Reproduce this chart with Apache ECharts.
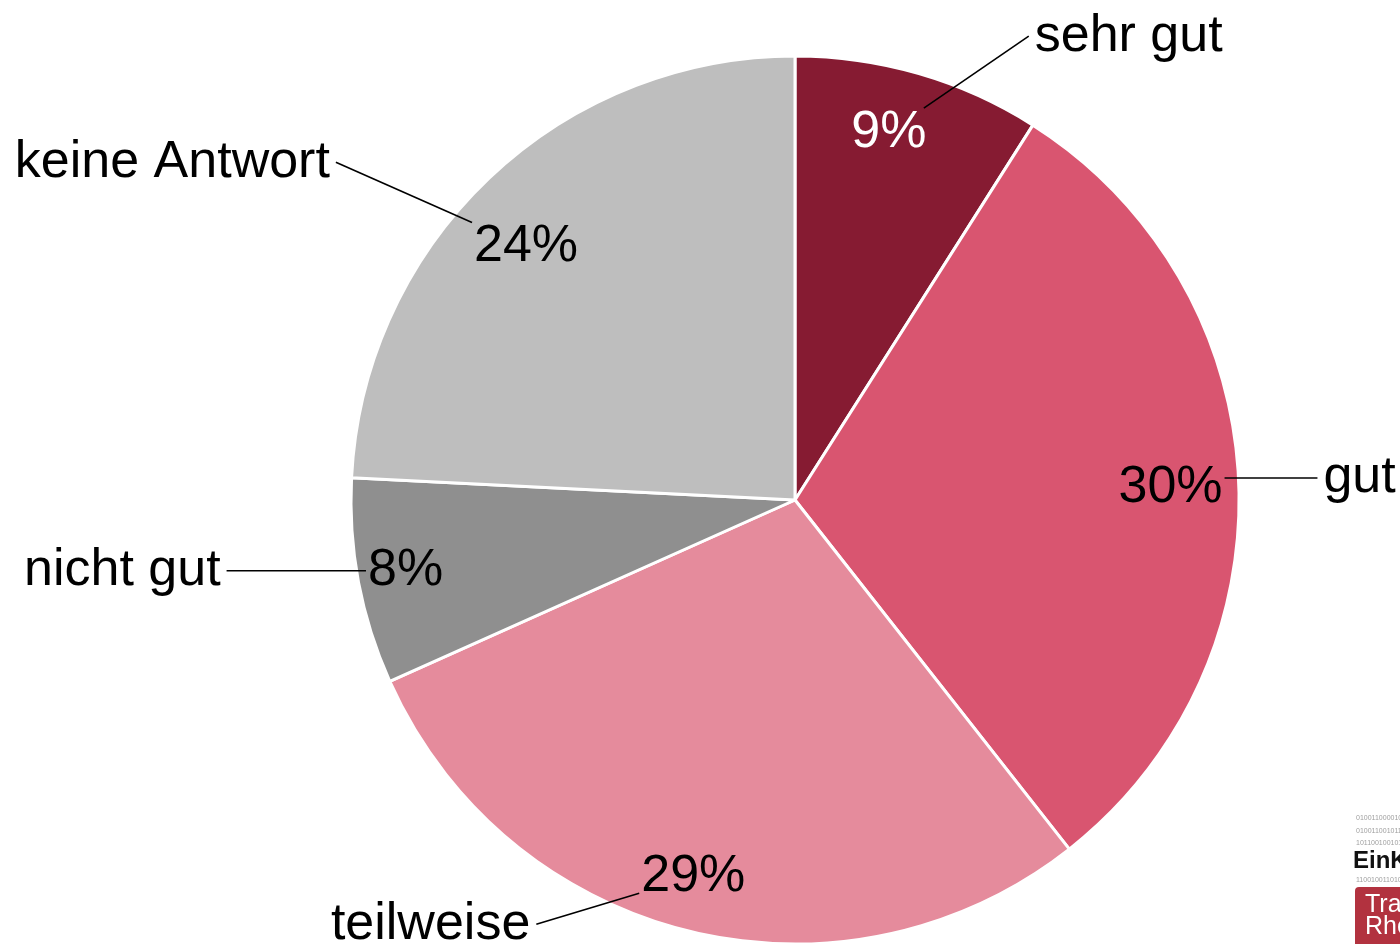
<!DOCTYPE html>
<html><head><meta charset="utf-8">
<script src="https://cdn.jsdelivr.net/npm/echarts@6/dist/echarts.min.js"></script>
<style>html,body{margin:0;padding:0;background:#fff}#c{width:1400px;height:944px}</style>
</head><body><div id="c"></div>
<script>
// ---- data ----
const categories = ['sehr gut', 'gut', 'teilweise', 'nicht gut', 'keine Antwort'];
const values = [9.0, 30.4, 28.9, 7.5, 24.2];

// ---- style ----
const sliceColors = ['#861B32', '#D95570', '#E58B9C', '#8F8F8F', '#BEBEBE'];
const pctTextColors = ['#ffffff', '#000000', '#000000', '#000000', '#000000'];
const pctOffsets = [[-13, 0], [-7, 7], [-10, 5], [-13, 0], [-5, 24]];
const guideLengths = [[100, 99], [54, 86], [54, 154], [1, 191], [83, 138]];
const FONT = '"Liberation Sans", Arial, Helvetica, sans-serif';
const FS = 52;
const CENTER = [795, 500];
const R = 444;
const RP = 383; // radius where percentage labels sit

const pctText = v => Math.round(v) + '%';
const measureCtx = document.createElement('canvas').getContext('2d');

const chart = echarts.init(document.getElementById('c'), null, {renderer: 'canvas'});

const mainData = categories.map((c, i) => ({
  name: c, value: values[i], itemStyle: {color: sliceColors[i]}
}));
const pctData = categories.map((c, i) => ({
  name: c, value: values[i], label: {color: pctTextColors[i], offset: pctOffsets[i]}
}));
const nameData = categories.map((c, i) => ({
  name: c, value: values[i],
  labelLine: {length: guideLengths[i][0], length2: guideLengths[i][1]}
}));

const binRows = ['0100110000101', '0100110010110', '1011001001011', '1100100110101'];

chart.setOption({
  animation: false,
  backgroundColor: '#ffffff',
  series: [
    {
      type: 'pie', z: 2, center: CENTER, radius: R, startAngle: 90, clockwise: true,
      silent: true,
      label: {show: false}, labelLine: {show: false},
      itemStyle: {borderColor: '#ffffff', borderWidth: 3},
      emphasis: {disabled: true},
      data: mainData
    },
    {
      type: 'pie', z: 4, center: CENTER, radius: [RP - 9, RP + 3], startAngle: 90,
      silent: true, avoidLabelOverlap: false,
      itemStyle: {color: 'transparent', borderWidth: 0},
      label: {show: true, position: 'inside', fontFamily: FONT, fontSize: FS,
        formatter: p => pctText(p.value)},
      labelLine: {show: false},
      emphasis: {disabled: true},
      data: pctData
    },
    {
      type: 'pie', z: 5, center: CENTER, radius: RP, startAngle: 90,
      silent: true, avoidLabelOverlap: false,
      itemStyle: {color: 'transparent', borderWidth: 0},
      label: {show: true, position: 'outside', fontFamily: FONT, fontSize: FS,
        color: '#000000', distanceToLabelLine: 6, formatter: '{b}'},
      labelLine: {show: true, lineStyle: {color: '#000000', width: 1.6},
        minTurnAngle: 0, maxSurfaceAngle: 180},
      emphasis: {disabled: true},
      labelLayout: function (p) {
        const pts = p.labelLinePoints;
        if (!pts || pts.length < 3) return {};
        const off = pctOffsets[p.dataIndex];
        const P = [pts[0][0] + off[0], pts[0][1] + off[1]];
        const E = pts[2];
        measureCtx.font = FS + 'px ' + FONT;
        const hw = measureCtx.measureText(pctText(values[p.dataIndex])).width / 2 + 2;
        const hh = 24;
        const vx = E[0] - P[0], vy = E[1] - P[1];
        let S;
        if (Math.abs(vy) < hh * 0.6) {
          // label end lies beside the percentage text: draw a level line
          S = [P[0] + Math.sign(vx) * hw, E[1]];
        } else {
          const tx = vx !== 0 ? Math.abs(hw / vx) : Infinity;
          const ty = vy !== 0 ? Math.abs(hh / vy) : Infinity;
          const t = Math.min(tx, ty);
          S = [P[0] + vx * t, P[1] + vy * t];
        }
        return {labelLinePoints: [S, E]};
      },
      data: nameData
    }
  ],
  graphic: [
    {type: 'text', left: 1356, top: 815, style: {text: binRows[0], fontSize: 7, fill: '#a0a0a0', fontFamily: FONT}},
    {type: 'text', left: 1356, top: 828, style: {text: binRows[1], fontSize: 7, fill: '#a0a0a0', fontFamily: FONT}},
    {type: 'text', left: 1356, top: 840, style: {text: binRows[2], fontSize: 7, fill: '#a0a0a0', fontFamily: FONT}},
    {type: 'text', left: 1353, top: 849, style: {text: 'EinKlang', fontSize: 24, fontWeight: 'bold', fill: '#111111', fontFamily: FONT}},
    {type: 'text', left: 1356, top: 877, style: {text: binRows[3], fontSize: 7, fill: '#a0a0a0', fontFamily: FONT}},
    {type: 'rect', shape: {x: 1355, y: 887, width: 80, height: 70, r: 4}, style: {fill: '#B2323F'}},
    {type: 'text', left: 1365, top: 893, style: {text: 'Transfer', fontSize: 25, fill: '#ffffff', fontFamily: FONT}},
    {type: 'text', left: 1365, top: 915, style: {text: 'Rhein', fontSize: 25, fill: '#ffffff', fontFamily: FONT}}
  ]
});
</script>
</body></html>
